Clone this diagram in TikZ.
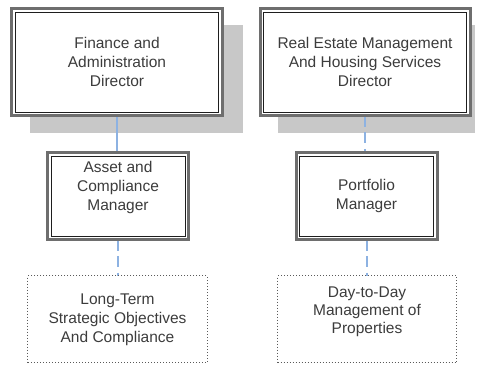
\documentclass[tikz,border=0pt]{standalone}
\usepackage{fontspec}
\setmainfont{Liberation Sans}
\usetikzlibrary{backgrounds}
\definecolor{shadowgray}{RGB}{200,200,200}
\definecolor{outergray}{RGB}{110,110,110}
\definecolor{innerdark}{RGB}{30,30,30}
\definecolor{linkblue}{RGB}{141,178,226}
\definecolor{textgray}{RGB}{60,60,60}
\definecolor{dotgray}{RGB}{90,90,90}
\begin{document}
\begin{tikzpicture}[x=1bp,y=-1bp,
  rolebox/.style={draw=outergray, line width=3bp, fill=white, inner sep=0pt, outer sep=0pt,
    path picture={\draw[line width=1bp, innerdark]
      ([shift={(3.5,3.5)}]path picture bounding box.north west) rectangle
      ([shift={(-3.5,-3.5)}]path picture bounding box.south east);}},
  taskbox/.style={draw=dotgray, line width=1bp, dash pattern=on 1bp off 2bp, inner sep=0pt, outer sep=0pt},
  shade/.style={fill=shadowgray},
  label/.style={font=\fontsize{15.5bp}{19bp}\selectfont, text=textgray, align=center, anchor=north, inner sep=0pt},
  solidlink/.style={draw=linkblue, line width=2bp},
  dashlink/.style={draw=linkblue, line width=2bp, dash pattern=on 11bp off 5.5bp},
]
\useasboundingbox (0,0) rectangle (478,364);

% boxes
\node[rolebox, minimum width=210bp, minimum height=107bp] (fad) at (117,62.3) {};
\node[rolebox, minimum width=210bp, minimum height=107bp] (red) at (365,62.3) {};
\node[rolebox, minimum width=141bp, minimum height=87bp] (acm) at (118,196) {};
\node[rolebox, minimum width=141bp, minimum height=87bp] (pm) at (366.5,196) {};
\node[taskbox, minimum width=179bp, minimum height=87bp] (lts) at (117.5,319) {};
\node[taskbox, minimum width=179bp, minimum height=87bp] (ddm) at (367,319) {};

% texts
\node[label] (t1) at (117,36.7) {Finance and\\Administration\\Director};
\node[label] (t2) at (365,37) {Real Estate Management\\And Housing Services\\Director};
\node[label] (t3) at (118,161) {Asset and\\Compliance\\Manager};
\node[label] (t4) at (366.5,179.5) {Portfolio\\Manager};
\node[label] (t5) at (117.5,294) {Long-Term\\Strategic Objectives\\And Compliance};
\node[label, font=\fontsize{15.5bp}{18bp}\selectfont] (t6) at (367,286.5) {Day-to-Day\\Management of\\Properties};

% shadows and connectors behind the boxes
\begin{scope}[on background layer]
\fill[shade] (30,25) rectangle (243,133);
\fill[shade] (278,25) rectangle (475,133);
\draw[solidlink] (fad.south) -- (fad.south |- acm.north);
\draw[dashlink] (acm.south) -- (acm.south |- lts.north);
\draw[dashlink] (red.south) -- (red.south |- pm.north);
\draw[dashlink] (pm.south) -- (pm.south |- ddm.north);
\end{scope}
\end{tikzpicture}
\end{document}
